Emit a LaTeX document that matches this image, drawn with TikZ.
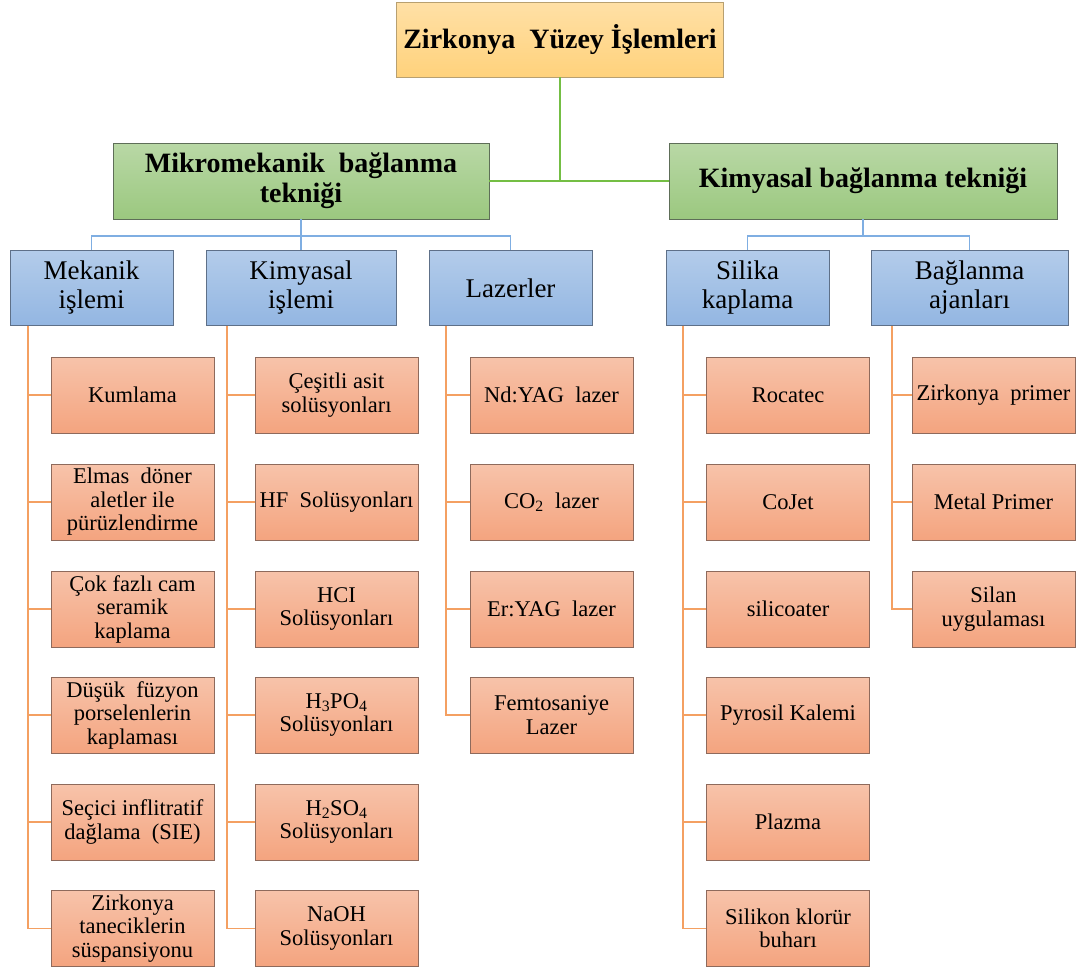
\documentclass[tikz,border=0pt]{standalone}
\usepackage{fontspec}
\setmainfont{Liberation Serif}
\definecolor{ttop}{HTML}{FFE0A6}
\definecolor{tbot}{HTML}{FFD27C}
\definecolor{tbord}{HTML}{B8A070}
\definecolor{gtop}{HTML}{B9D8A6}
\definecolor{gbot}{HTML}{9BC87F}
\definecolor{gbord}{HTML}{5E6E58}
\definecolor{btop}{HTML}{B3CCEA}
\definecolor{bbot}{HTML}{93B6E2}
\definecolor{bbord}{HTML}{5E7088}
\definecolor{otop}{HTML}{F7C3AA}
\definecolor{obot}{HTML}{F4A47F}
\definecolor{obord}{HTML}{8E6A5C}
\definecolor{gline}{HTML}{74BE44}
\definecolor{bline}{HTML}{7FAEE2}
\definecolor{oline}{HTML}{F4A062}
\begin{document}
\begin{tikzpicture}[x=1pt,y=-1pt,
  box/.style={rectangle, inner sep=0pt, align=center, line width=0.9pt},
  titlebox/.style={box, draw=tbord, top color=ttop, bottom color=tbot,
    minimum width=327pt, minimum height=75pt, font=\bfseries\fontsize{28}{30}\selectfont},
  greenbox/.style={box, draw=gbord, top color=gtop, bottom color=gbot,
    minimum height=76pt, font=\bfseries\fontsize{28}{30}\selectfont},
  bluebox/.style={box, draw=bbord, top color=btop, bottom color=bbot,
    minimum height=75pt, font=\fontsize{27}{29}\selectfont},
  orangebox/.style={box, draw=obord, top color=otop, bottom color=obot,
    minimum width=163pt, minimum height=76pt, font=\fontsize{22.5}{23.5}\selectfont},
  glink/.style={draw=gline, line width=2pt},
  blink/.style={draw=bline, line width=1.9pt},
  olink/.style={draw=oline, line width=1.9pt}]
\useasboundingbox (0,0) rectangle (1079,969);

% level 0 and 1
\node[titlebox] (title) at (560,39.5) {Zirkonya\ \ Yüzey İşlemleri};
\node[greenbox, minimum width=376pt] (mikro) at (301,181) {Mikromekanik\ \ bağlanma\\tekniği};
\node[greenbox, minimum width=388pt] (kimb) at (863,181) {Kimyasal bağlanma tekniği};

% level 2
\node[bluebox, minimum width=163pt] (mek) at (91.5,288) {Mekanik\\işlemi};
\node[bluebox, minimum width=190pt] (kim) at (301,288) {Kimyasal\\işlemi};
\node[bluebox, minimum width=163pt] (laz) at (510.5,288) {Lazerler};
\node[bluebox, minimum width=163pt] (sil) at (747.5,288) {Silika\\kaplama};
\node[bluebox, minimum width=197pt] (bag) at (969.5,288) {Bağlanma\\ajanları};

% column 1
\node[orangebox] (a1) at (132.5,395) {Kumlama};
\node[orangebox] (a2) at (132.5,502) {Elmas\ \ döner\\aletler ile\\pürüzlendirme};
\node[orangebox] (a3) at (132.5,609) {Çok fazlı cam\\seramik\\kaplama};
\node[orangebox] (a4) at (132.5,715) {Düşük\ \ füzyon\\porselenlerin\\kaplaması};
\node[orangebox] (a5) at (132.5,822) {Seçici inflitratif\\dağlama\ \ (SIE)};
\node[orangebox] (a6) at (132.5,928.5) {Zirkonya\\taneciklerin\\süspansiyonu};

% column 2
\node[orangebox] (b1) at (336.5,395) {Çeşitli asit\\solüsyonları};
\node[orangebox] (b2) at (336.5,502) {HF\ \ Solüsyonları};
\node[orangebox] (b3) at (336.5,609) {HCI\\Solüsyonları};
\node[orangebox] (b4) at (336.5,715) {H\textsubscript{3}PO\textsubscript{4}\\Solüsyonları};
\node[orangebox] (b5) at (336.5,822) {H\textsubscript{2}SO\textsubscript{4}\\Solüsyonları};
\node[orangebox] (b6) at (336.5,928.5) {NaOH\\Solüsyonları};

% column 3
\node[orangebox] (c1) at (551.5,395) {Nd:YAG\ \ lazer};
\node[orangebox] (c2) at (551.5,502) {CO\textsubscript{2}\ \ lazer};
\node[orangebox] (c3) at (551.5,609) {Er:YAG\ \ lazer};
\node[orangebox] (c4) at (551.5,715) {Femtosaniye\\Lazer};

% column 4
\node[orangebox] (d1) at (788,395) {Rocatec};
\node[orangebox] (d2) at (788,502) {CoJet};
\node[orangebox] (d3) at (788,609) {silicoater};
\node[orangebox] (d4) at (788,715) {Pyrosil Kalemi};
\node[orangebox] (d5) at (788,822) {Plazma};
\node[orangebox] (d6) at (788,928.5) {Silikon klorür\\buharı};

% column 5
\node[orangebox] (e1) at (993.5,395) {Zirkonya\ \ primer};
\node[orangebox] (e2) at (993.5,502) {Metal Primer};
\node[orangebox] (e3) at (993.5,609) {Silan\\uygulaması};

% green connectors
\draw[glink] (title.south) -- (title.south |- mikro.east);
\draw[glink] (mikro.east) -- (kimb.west);

% blue connectors
\coordinate (bjoin) at (0,236);
\draw[blink] (mikro.south) -- (kim.north);
\draw[blink] (mek.north) -- (mek.north |- bjoin) -- (laz.north |- bjoin) -- (laz.north);
\draw[blink] (kimb.south) -- (kimb.south |- bjoin);
\draw[blink] (sil.north) -- (sil.north |- bjoin) -- (bag.north |- bjoin) -- (bag.north);

% orange connectors
\coordinate (ta) at (28,0);
\coordinate (tb) at (227,0);
\coordinate (tc) at (446,0);
\coordinate (td) at (683,0);
\coordinate (te) at (892,0);
\foreach \n in {a1,a2,a3,a4,a5,a6} \draw[olink] (ta |- mek.south) |- (\n.west);
\foreach \n in {b1,b2,b3,b4,b5,b6} \draw[olink] (tb |- kim.south) |- (\n.west);
\foreach \n in {c1,c2,c3,c4} \draw[olink] (tc |- laz.south) |- (\n.west);
\foreach \n in {d1,d2,d3,d4,d5,d6} \draw[olink] (td |- sil.south) |- (\n.west);
\foreach \n in {e1,e2,e3} \draw[olink] (te |- bag.south) |- (\n.west);
\end{tikzpicture}
\end{document}
